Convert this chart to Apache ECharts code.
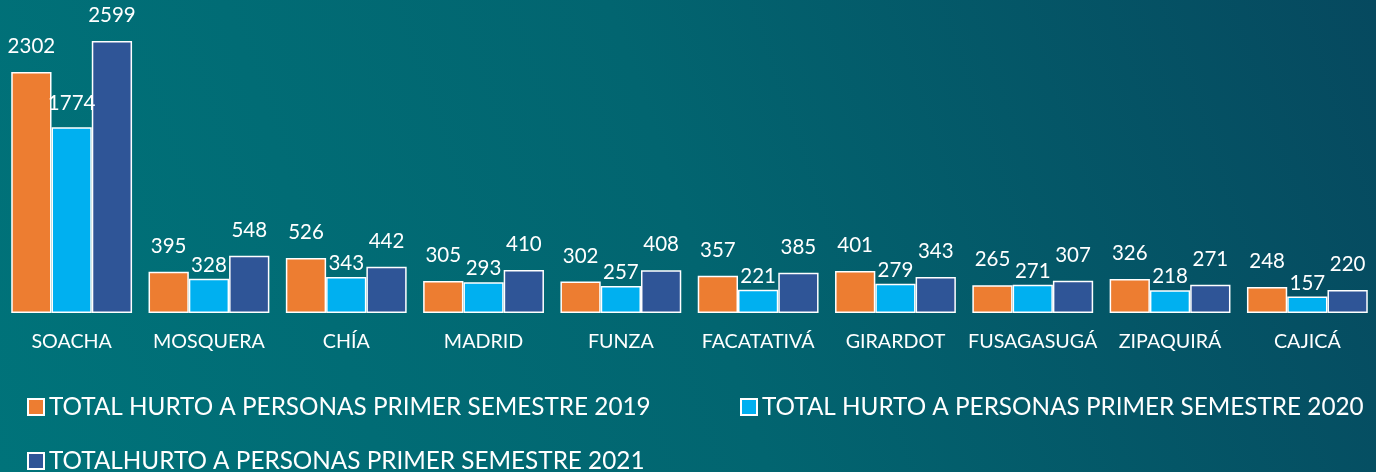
<!DOCTYPE html>
<html>
<head>
<meta charset="utf-8">
<script src="https://cdn.jsdelivr.net/npm/echarts@6/dist/echarts.min.js"></script>
<style>
html,body{margin:0;padding:0;}
#c{width:1376px;height:472px;}
</style>
</head>
<body>
<div id="c"></div>
<script>
const categories = ['SOACHA','MOSQUERA','CHÍA','MADRID','FUNZA','FACATATIVÁ','GIRARDOT','FUSAGASUGÁ','ZIPAQUIRÁ','CAJICÁ'];
const seriesNames = ['TOTAL HURTO A PERSONAS PRIMER SEMESTRE 2019','TOTAL HURTO A PERSONAS PRIMER SEMESTRE 2020','TOTALHURTO A PERSONAS PRIMER SEMESTRE 2021'];
const values2019 = [2302,395,526,305,302,357,401,265,326,248];
const values2020 = [1774,328,343,293,257,221,279,271,218,157];
const values2021 = [2599,548,442,410,408,385,343,307,271,220];

const colors = ['#ED7D31','#00B0F0','#2F5597'];
const FONT = 'Lato';

const chart = echarts.init(document.getElementById('c'));

function mk(name, vals, color, dist, special) {
  return {
    name: name,
    type: 'bar',
    barGap: '0%',
    barCategoryGap: '12%',
    data: vals.map((v, i) => (special && special[i] !== undefined) ? {value: v, label: {distance: special[i]}} : v),
    itemStyle: {color: color, borderColor: '#ffffff', borderWidth: 1.5},
    label: {show: true, position: 'top', distance: dist, color: '#ffffff', fontFamily: FONT, fontSize: 20.5},
    emphasis: {disabled: true}
  };
}

const legendBase = {
  itemWidth: 16, itemHeight: 16, itemGap: 10, itemTextGap: 6,
  padding: 0,
  icon: 'rect',
  textStyle: {color: '#ffffff', fontFamily: FONT, fontSize: 24.3},
  selectedMode: false
};

chart.setOption({
  animation: false,
  backgroundColor: {
    type: 'linear', x: 0, y: 1, x2: 1, y2: 0,
    colorStops: [{offset: 0, color: '#00737a'}, {offset: 0.5, color: '#026570'}, {offset: 1, color: '#06495f'}]
  },
  grid: {left: 3, width: 1374, top: 20, bottom: 159},
  xAxis: {
    type: 'category', data: categories,
    axisLine: {show: false}, axisTick: {show: false},
    axisLabel: {interval: 0, color: '#ffffff', fontFamily: FONT, fontSize: 19.7, margin: 19}
  },
  yAxis: {type: 'value', min: 0, max: 2800, show: false, splitLine: {show: false}},
  legend: [
    Object.assign({}, legendBase, {data: [seriesNames[0]], left: 27, top: 395}),
    Object.assign({}, legendBase, {data: [seriesNames[1]], left: 740, top: 395}),
    Object.assign({}, legendBase, {data: [seriesNames[2]], left: 27, top: 449})
  ],
  series: [
    mk(seriesNames[0], values2019, colors[0], 15),
    mk(seriesNames[1], values2020, colors[1], 3, {0: 13}),
    mk(seriesNames[2], values2021, colors[2], 15)
  ]
});
</script>
</body>
</html>
